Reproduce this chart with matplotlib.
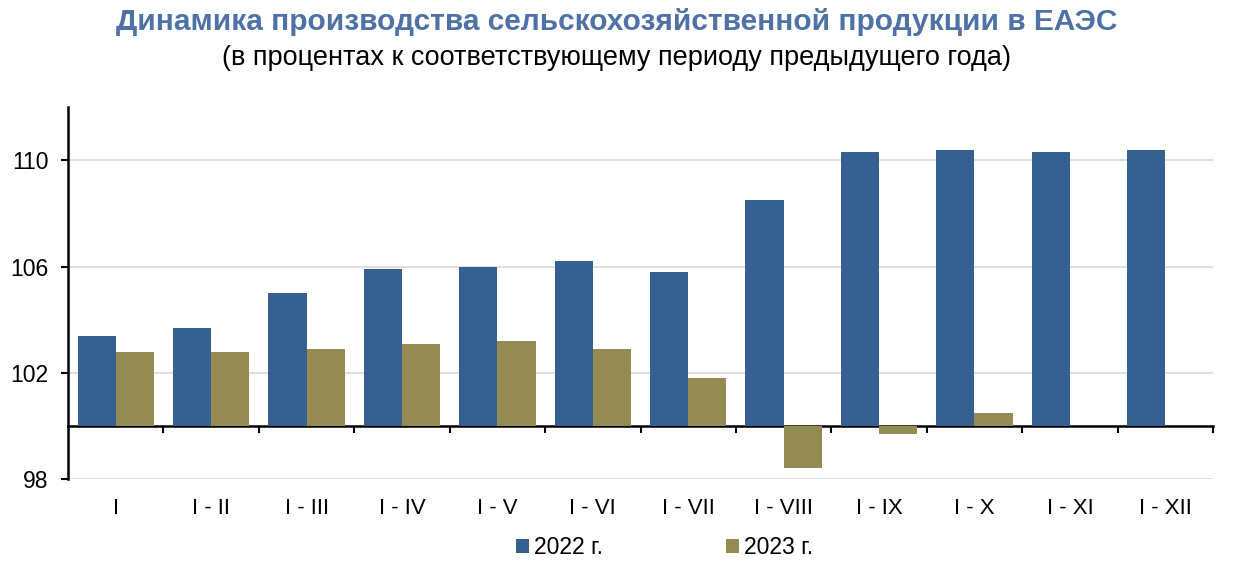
import numpy as np
import matplotlib
matplotlib.use("Agg")
import matplotlib.pyplot as plt
from matplotlib.ticker import FixedLocator

plt.rcParams["font.family"] = ["Liberation Sans", "DejaVu Sans"]

# === Data ===
periods = ["I", "I - II", "I - III", "I - IV", "I - V", "I - VI", "I - VII",
           "I - VIII", "I - IX", "I - X", "I - XI", "I - XII"]
values_2022 = [103.4, 103.7, 105.0, 105.9, 106.0, 106.2, 105.8,
               108.5, 110.3, 110.4, 110.3, 110.4]
values_2023 = [102.8, 102.8, 102.9, 103.1, 103.2, 102.9, 101.8,
               98.4, 99.7, 100.5, np.nan, np.nan]
base = 100

colors = {"2022": "#36608F", "2023": "#948A54"}

fig = plt.figure(figsize=(12.33, 5.73), dpi=100)
ax = fig.add_axes([0.0552, 0.164, 0.9286, 0.649])

x = np.arange(len(periods))
w = 0.4
ax.bar(x - w / 2, np.array(values_2022) - base, w, bottom=base,
       color=colors["2022"], label="2022 г.", zorder=3)
ax.bar(x + w / 2, np.array(values_2023) - base, w, bottom=base,
       color=colors["2023"], label="2023 г.", zorder=3)

ax.set_xlim(-0.5, len(periods) - 0.5)
ax.set_ylim(98, 112)
ax.set_yticks([98, 102, 106, 110])
ax.yaxis.grid(True, color="#d9d9d9", linewidth=1.2, zorder=0)
ax.tick_params(axis="y", labelsize=16.5, length=5, width=1.5, pad=9)

# x axis at 100
for s in ["top", "right"]:
    ax.spines[s].set_visible(False)
ax.spines["left"].set_linewidth(1.8)
ax.spines["bottom"].set_position(("data", base))
ax.spines["bottom"].set_linewidth(1.8)
ax.set_xticks(x)
ax.set_xticklabels(periods)
ax.xaxis.set_minor_locator(FixedLocator(np.arange(0.5, len(periods), 1.0)))
ax.tick_params(axis="x", which="major", length=0, labelsize=16, pad=52)
ax.tick_params(axis="x", which="minor", length=5, width=1.5, direction="out")

fig.text(0.5, 0.962, "Динамика производства сельскохозяйственной продукции в ЕАЭС",
         ha="center", va="center", fontsize=21.5, fontweight="bold", color="#4F72A6")
fig.text(0.5, 0.898, "(в процентах к соответствующему периоду предыдущего года)",
         ha="center", va="center", fontsize=19.5, color="black")

fig.legend(loc="center", bbox_to_anchor=(0.539, 0.044), ncol=2, frameon=False,
           fontsize=16.5, handlelength=0.55, handleheight=0.55, handletextpad=0.2,
           columnspacing=5.4)

fig.savefig("out.png", dpi=100)
